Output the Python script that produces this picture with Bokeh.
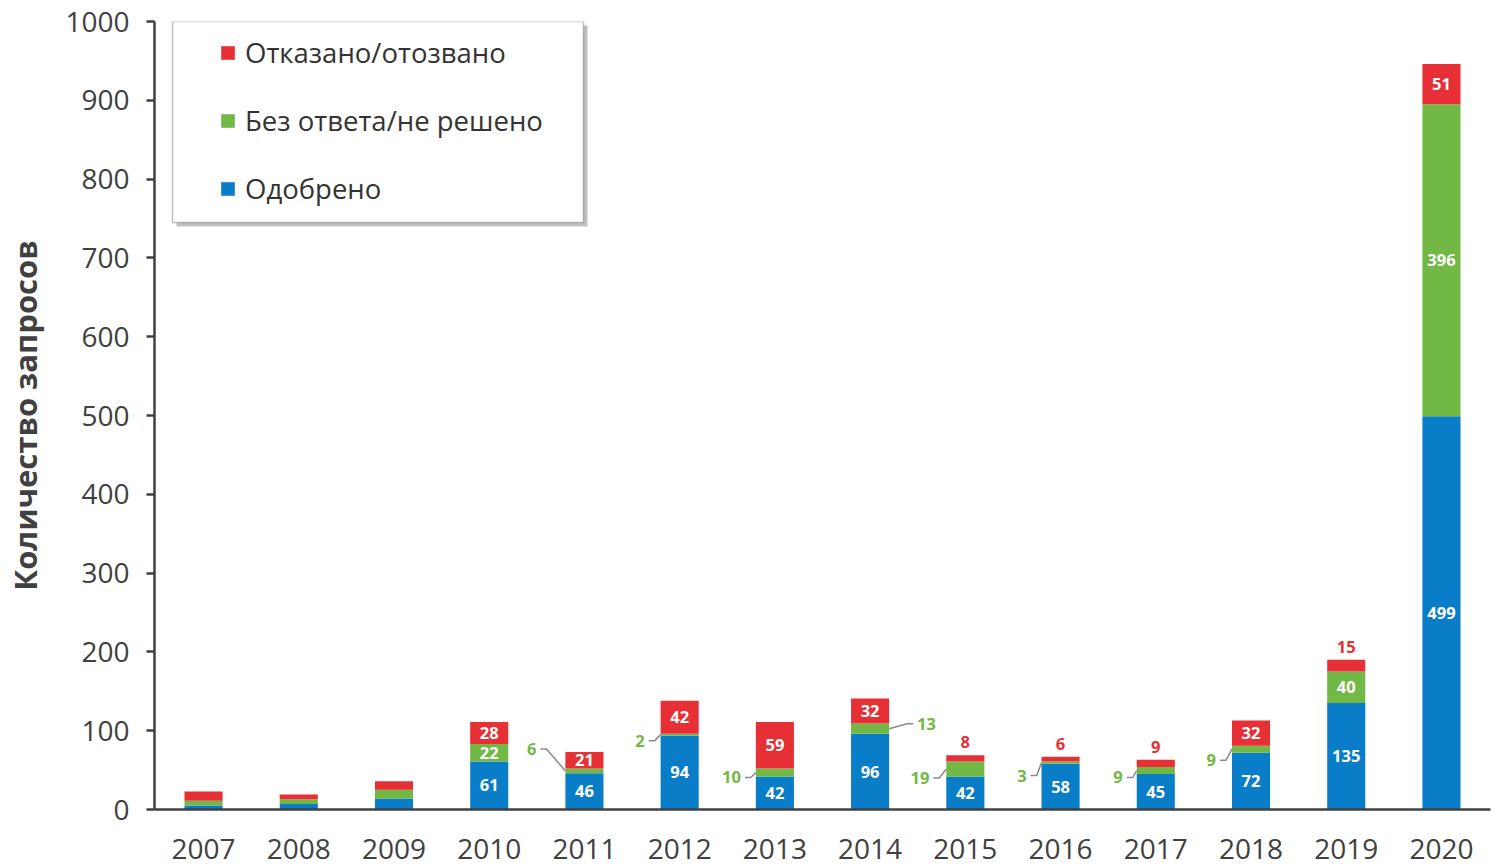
from bokeh.plotting import figure
from bokeh.models import (ColumnDataSource, Range1d, FixedTicker, Legend, LegendItem,
                          BoxAnnotation)
from bokeh.core.properties import value
from bokeh.embed import file_html
from bokeh.resources import INLINE

# ---------------- data ----------------
years = ["2007", "2008", "2009", "2010", "2011", "2012", "2013",
         "2014", "2015", "2016", "2017", "2018", "2019", "2020"]
approved = [5, 7, 14, 61, 46, 94, 42, 96, 42, 58, 45, 72, 135, 499]
pending = [6, 6, 11, 22, 6, 2, 10, 13, 19, 3, 9, 9, 40, 396]
refused = [12, 6, 11, 28, 21, 42, 59, 32, 8, 6, 9, 32, 15, 51]
series_names = ["Одобрено", "Без ответа/не решено", "Отказано/отозвано"]
y_ticks = [0, 100, 200, 300, 400, 500, 600, 700, 800, 900, 1000]
y_title = "Количество запросов"

# which value labels are shown and how (layout choices)
approved_inside = ["2010", "2011", "2012", "2013", "2014", "2015", "2016",
                   "2017", "2018", "2019", "2020"]
pending_inside = ["2010", "2019", "2020"]
refused_inside = ["2010", "2011", "2012", "2013", "2014", "2018", "2020"]
refused_above = ["2015", "2016", "2017", "2019"]
# pending labels outside the bar: year -> (text edge offset px, vertical offset px up)
pending_outside = {"2011": (-48, 22), "2012": (-35, -6), "2013": (-34, -5),
                   "2014": (47, 5), "2015": (-36, -9), "2016": (-34, -13),
                   "2017": (-33, -7), "2018": (-35, -11)}

# ---------------- style ----------------
C_BLUE = "#0A7DC8"
C_GREEN = "#72B844"
C_RED = "#E72F36"
C_AXIS = "#404040"
FONT = "Open Sans"

X0, X1 = -0.515, 13.515
FRAME_L, FRAME_R, FRAME_T, FRAME_B = 154, 1490, 21, 809
FRAME_W = FRAME_R - FRAME_L
FRAME_H = FRAME_B - FRAME_T
PXX = (X1 - X0) / FRAME_W
PXY = 1000.0 / FRAME_H
BAR_W = 0.4

idx = list(range(len(years)))

src = ColumnDataSource(dict(x=idx, year=years, approved=approved,
                            pending=pending, refused=refused))

p = figure(width=1497, height=866, output_backend="svg", toolbar_location=None,
           x_range=Range1d(X0, X1), y_range=Range1d(0, 1000),
           min_border_left=FRAME_L, min_border_right=1497 - FRAME_R,
           min_border_top=FRAME_T, min_border_bottom=866 - FRAME_B)
p.outline_line_color = None
p.xgrid.visible = False
p.ygrid.visible = False
p.background_fill_color = "white"
p.border_fill_color = "white"

# legend frame (drawn under everything)
bl, br = X0 + (172 - FRAME_L) * PXX, X0 + (583 - FRAME_L) * PXX
bt, bb = 1000, (FRAME_B - 222) * PXY
shadow = BoxAnnotation(left=bl + 4 * PXX, right=br + 4 * PXX, top=bt - 4 * PXY,
                       bottom=bb - 4 * PXY, fill_color="#9a9a9a", fill_alpha=0.6,
                       line_color=None, level="underlay")
frame_box = BoxAnnotation(left=bl, right=br, top=bt, bottom=bb, fill_color="white",
                          fill_alpha=1.0, line_color="#333333", line_width=1.5,
                          level="underlay")
p.add_layout(shadow)
p.add_layout(frame_box)

rs = p.vbar_stack(["approved", "pending", "refused"], x="x", width=BAR_W,
                  color=[C_BLUE, C_GREEN, C_RED], line_color=None, source=src)

# ---------------- value labels ----------------
LAB_SIZE = "16.5px"
lab_x, lab_y, lab_t = [], [], []
for i, y in enumerate(years):
    a, pn, r = approved[i], pending[i], refused[i]
    if y in approved_inside:
        lab_x.append(i); lab_y.append(a / 2); lab_t.append(str(a))
    if y in pending_inside:
        lab_x.append(i); lab_y.append(a + pn / 2); lab_t.append(str(pn))
    if y in refused_inside:
        lab_x.append(i); lab_y.append(a + pn + r / 2); lab_t.append(str(r))
p.text(x="x", y="y", text="t", source=ColumnDataSource(dict(x=lab_x, y=lab_y, t=lab_t)),
       text_color="white", text_font=value(FONT), text_font_style="bold",
       text_font_size=LAB_SIZE, text_align="center", text_baseline="middle")

ab_x, ab_y, ab_t = [], [], []
for i, y in enumerate(years):
    if y in refused_above:
        ab_x.append(i); ab_y.append(approved[i] + pending[i] + refused[i])
        ab_t.append(str(refused[i]))
p.text(x="x", y="y", text="t", source=ColumnDataSource(dict(x=ab_x, y=ab_y, t=ab_t)),
       text_color=C_RED, text_font=value(FONT), text_font_style="bold",
       text_font_size=LAB_SIZE, text_align="center", text_baseline="middle",
       y_offset=-13)

for side in ("left", "right"):
    ox, oy, ot, lxs, lys = [], [], [], [], []
    for i, y in enumerate(years):
        if y not in pending_outside:
            continue
        tx, dy = pending_outside[y]
        if (tx < 0) != (side == "left"):
            continue
        mid = approved[i] + pending[i] / 2
        ly = mid + dy * PXY
        ox.append(i + tx * PXX); oy.append(ly); ot.append(str(pending[i]))
        sgn = 1 if tx < 0 else -1
        edge = -sgn * (BAR_W / 2)
        lxs.append([i + (tx + sgn * 4) * PXX, i + (tx + sgn * 10) * PXX, i + edge])
        lys.append([ly, ly, mid])
    p.multi_line(xs="xs", ys="ys", source=ColumnDataSource(dict(xs=lxs, ys=lys)),
                 line_color="#8a8a8a", line_width=1.5)
    p.text(x="x", y="y", text="t", source=ColumnDataSource(dict(x=ox, y=oy, t=ot)),
           text_color=C_GREEN, text_font=value(FONT), text_font_style="bold",
           text_font_size=LAB_SIZE, text_align="right" if side == "left" else "left",
           text_baseline="middle")

# ---------------- axes ----------------
xa = p.xaxis[0]
xa.ticker = FixedTicker(ticks=idx)
xa.major_label_overrides = {i: y for i, y in enumerate(years)}
xa.major_tick_out = 0
xa.major_tick_in = 0
xa.minor_tick_out = 0
xa.minor_tick_in = 0
xa.axis_line_color = C_AXIS
xa.axis_line_width = 2.5
xa.major_label_text_font = FONT
xa.major_label_text_font_size = "28px"
xa.major_label_text_color = C_AXIS
xa.major_label_standoff = 29

ya = p.yaxis[0]
ya.ticker = FixedTicker(ticks=y_ticks)
ya.major_tick_out = 8
ya.major_tick_in = 0
ya.minor_tick_out = 0
ya.minor_tick_in = 0
ya.major_tick_line_color = C_AXIS
ya.major_tick_line_width = 2.5
ya.axis_line_color = C_AXIS
ya.axis_line_width = 2.5
ya.major_label_text_font = FONT
ya.major_label_text_font_size = "28px"
ya.major_label_text_color = C_AXIS
ya.major_label_standoff = 17
ya.axis_label = y_title
ya.axis_label_text_font = FONT
ya.axis_label_text_font_style = "bold"
ya.axis_label_text_font_size = "31px"
ya.axis_label_text_color = C_AXIS
ya.axis_label_standoff = 16

# ---------------- legend ----------------
legend = Legend(items=[LegendItem(label=series_names[2], renderers=[rs[2]]),
                       LegendItem(label=series_names[1], renderers=[rs[1]]),
                       LegendItem(label=series_names[0], renderers=[rs[0]])],
                location=(219 - FRAME_L, 602), padding=0, margin=0, spacing=31,
                label_height=30, glyph_width=17, glyph_height=17,
                label_standoff=9, border_line_color=None,
                background_fill_alpha=0.0,
                label_text_font=FONT, label_text_font_size="27.5px",
                label_text_color="#333333")
p.add_layout(legend, "center")

open("out.html", "w").write(file_html(p, INLINE))
